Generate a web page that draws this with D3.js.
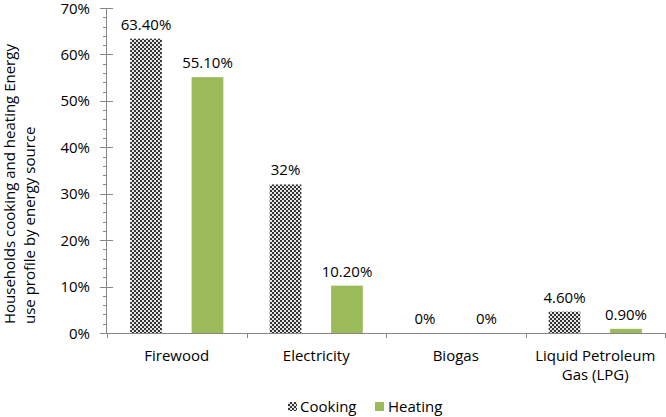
<!DOCTYPE html>
<html>
<head>
<meta charset="utf-8">
<script src="https://cdn.jsdelivr.net/npm/d3@7"></script>
<style>
  body { margin: 0; background: #fff; }
  text { font-family: "Open Sans", "Liberation Sans", sans-serif; fill: #000; }
</style>
</head>
<body>
<svg id="chart" width="666" height="417"></svg>
<script>
const categories = ["Firewood", "Electricity", "Biogas", "Liquid Petroleum Gas (LPG)"];
const categoryLines = [["Firewood"], ["Electricity"], ["Biogas"], ["Liquid Petroleum", "Gas (LPG)"]];
const seriesNames = ["Cooking", "Heating"];
const cooking = [63.4, 32, 0, 4.6];
const heating = [55.1, 10.2, 0, 0.9];
const cookingLabels = ["63.40%", "32%", "0%", "4.60%"];
const heatingLabels = ["55.10%", "10.20%", "0%", "0.90%"];
const yTicks = [0, 10, 20, 30, 40, 50, 60, 70];
const yTitleLines = ["Households cooking and heating Energy", "use profile by energy source"];

const svg = d3.select("#chart");
const x0 = 107, x1p = 665, yTop = 8, yBot = 333;

const defs = svg.append("defs");
const pat = defs.append("pattern").attr("id", "checker").attr("patternUnits", "userSpaceOnUse")
  .attr("width", 4).attr("height", 4);
pat.append("rect").attr("width", 4).attr("height", 4).attr("fill", "#e4e4e4");
pat.append("rect").attr("x", 0).attr("y", 0).attr("width", 2).attr("height", 2).attr("fill", "#353535");
pat.append("rect").attr("x", 2).attr("y", 2).attr("width", 2).attr("height", 2).attr("fill", "#353535");

const x = d3.scaleBand().domain(categories).range([x0, x1p]).padding(0);
const xs = d3.scaleBand().domain(seriesNames).range([0, x.bandwidth()]).paddingInner(0.484).paddingOuter(0.377);
const y = d3.scaleLinear().domain([0, 70]).range([yBot, yTop]);

const fills = { Cooking: "url(#checker)", Heating: "#9BBB59" };
const data = categories.map((c, i) => ({ c, vals: [
  { s: "Cooking", v: cooking[i], label: cookingLabels[i] },
  { s: "Heating", v: heating[i], label: heatingLabels[i] } ] }));

const axisColor = "#868686";

// bars
const g = svg.append("g");
data.forEach(d => {
  d.vals.forEach(p => {
    const bx = x(d.c) + xs(p.s);
    if (p.v > 0) {
      g.append("rect").attr("x", bx).attr("y", y(p.v)).attr("width", xs.bandwidth())
        .attr("height", y(0) - y(p.v)).attr("fill", fills[p.s]);
    }
    g.append("text").attr("x", bx + xs.bandwidth() / 2).attr("y", y(p.v) - 9)
      .attr("text-anchor", "middle").attr("font-size", 15).text(p.label);
  });
});

// y axis
const ya = svg.append("g").attr("stroke", axisColor).attr("stroke-width", 1);
ya.append("line").attr("x1", x0 - 0.5).attr("x2", x0 - 0.5).attr("y1", y(70)).attr("y2", y(0));
d3.range(0, 71, 2).forEach(t => {
  const yy = Math.round(y(t)) + 0.5;
  if (t % 10 === 0) {
    ya.append("line").attr("x1", x0 - 7).attr("x2", x0 + 6).attr("y1", yy).attr("y2", yy);
  } else {
    ya.append("line").attr("x1", x0 - 4).attr("x2", x0).attr("y1", yy).attr("y2", yy);
  }
});
svg.append("g").selectAll("text").data(yTicks).join("text")
  .attr("x", 90).attr("y", d => y(d) + 5.5).attr("text-anchor", "end")
  .attr("font-size", 15).text(d => d + "%");

// x axis
const xa = svg.append("g").attr("stroke", axisColor).attr("stroke-width", 1);
xa.append("line").attr("x1", x0 - 0.5).attr("x2", x1p + 0.5).attr("y1", yBot + 0.5).attr("y2", yBot + 0.5);
categories.forEach((c, i) => {
  const xx = Math.round(x(c)) + 0.5;
  xa.append("line").attr("x1", xx).attr("x2", xx).attr("y1", yBot).attr("y2", yBot + 5);
});
xa.append("line").attr("x1", x1p + 0.5).attr("x2", x1p + 0.5).attr("y1", yBot).attr("y2", yBot + 5);

categories.forEach((c, i) => {
  const t = svg.append("text").attr("x", x(c) + x.bandwidth() / 2).attr("y", 361)
    .attr("text-anchor", "middle").attr("font-size", 15);
  categoryLines[i].forEach((ln, j) => {
    t.append("tspan").attr("x", x(c) + x.bandwidth() / 2).attr("dy", j === 0 ? 0 : 19).text(ln);
  });
});

// y title
yTitleLines.forEach((ln, j) => {
  svg.append("text").attr("transform", `translate(${15 + j * 20},324) rotate(-90)`)
    .attr("text-anchor", "start").attr("font-size", 15).text(ln);
});

// legend
const leg = svg.append("g");
const legItems = [{ s: "Cooking", x: 288, tx: 300 }, { s: "Heating", x: 375, tx: 388 }];
legItems.forEach(it => {
  leg.append("rect").attr("x", it.x).attr("y", 402).attr("width", 9).attr("height", 9).attr("fill", fills[it.s]);
  leg.append("text").attr("x", it.tx).attr("y", 412).attr("font-size", 15).text(it.s);
});
</script>
</body>
</html>
